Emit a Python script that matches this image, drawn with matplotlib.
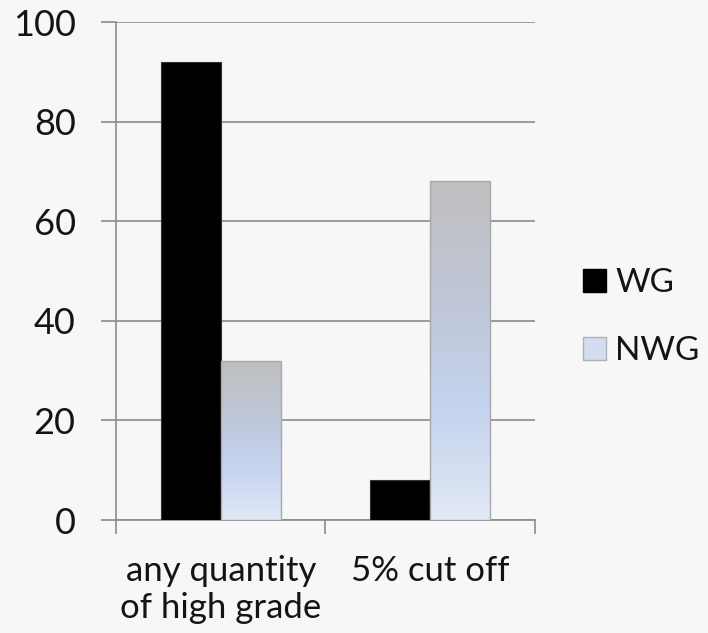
import numpy as np
import matplotlib
matplotlib.use("Agg")
import matplotlib.pyplot as plt
from matplotlib.colors import LinearSegmentedColormap
from matplotlib.patches import Patch

plt.rcParams["font.family"] = ["Lato", "DejaVu Sans"]

categories = ["any quantity\nof high grade", "5% cut off"]
series_names = ["WG", "NWG"]
wg = [92, 8]
nwg = [32, 68]
y_ticks = [0, 20, 40, 60, 80, 100]

BG = "#f7f7f9"
GRID = "#8c8c8c"
TXT = "#141414"
fade = LinearSegmentedColormap.from_list(
    "nwg", ["#e2e8f5", "#c4d3ee", "#bfc6d6", "#bfbfbf"])

fig = plt.figure(figsize=(7.08, 6.33), dpi=100, facecolor=BG)
ax = fig.add_axes([0.1638, 0.1785, 0.7556 - 0.1638, 0.9652 - 0.1785])
ax.set_facecolor("none")

x = np.arange(len(categories))
w = 0.286
ax.bar(x - w / 2, wg, w, color="black", edgecolor="#333333", linewidth=0.8, zorder=3)
nwg_bars = ax.bar(x + w / 2, nwg, w, color="none", edgecolor="#a8a8a8",
                  linewidth=1.0, zorder=4)

# vertical gradient fill for each NWG bar
grad = np.linspace(0, 1, 256).reshape(-1, 1)
for b in nwg_bars:
    x0, y0 = b.get_x(), b.get_y()
    img = ax.imshow(grad, cmap=fade, aspect="auto", origin="lower",
                    extent=(x0, x0 + b.get_width(), y0, y0 + b.get_height()),
                    zorder=3.5)
    img.set_clip_path(b)

ax.set_xlim(-0.5, 1.5)
ax.set_ylim(0, 100)
ax.set_yticks(y_ticks)
ax.yaxis.grid(True, color=GRID, linewidth=1.2, zorder=0)
ax.set_axisbelow(True)

ax.set_xticks([-0.5, 0.5, 1.5])
ax.set_xticklabels([])
ax.set_xticks(x, minor=True)
ax.set_xticklabels(categories, minor=True, fontsize=25, color=TXT,
                   linespacing=1.2)
ax.tick_params(axis="x", which="major", length=10, width=1.2, color=GRID)
ax.tick_params(axis="x", which="minor", length=0, pad=25)
ax.tick_params(axis="y", length=11, width=1.2, color=GRID, pad=18,
               labelsize=26, labelcolor=TXT)

for s in ("top", "right"):
    ax.spines[s].set_visible(False)
for s in ("left", "bottom"):
    ax.spines[s].set_color(GRID)
    ax.spines[s].set_linewidth(1.2)

handles = [Patch(facecolor="black", edgecolor="black"),
           Patch(facecolor="#d3ddf0", edgecolor="#b0b0b0")]
leg = fig.legend(handles, series_names, loc="center left",
                 bbox_to_anchor=(583 / 708, 1 - 317 / 633), frameon=False,
                 fontsize=24, borderpad=0, borderaxespad=0,
                 handlelength=0.69, handleheight=0.69, handletextpad=0.28,
                 labelspacing=1.15)
for t in leg.get_texts():
    t.set_color(TXT)

fig.savefig("out.png", dpi=100, facecolor=BG)
